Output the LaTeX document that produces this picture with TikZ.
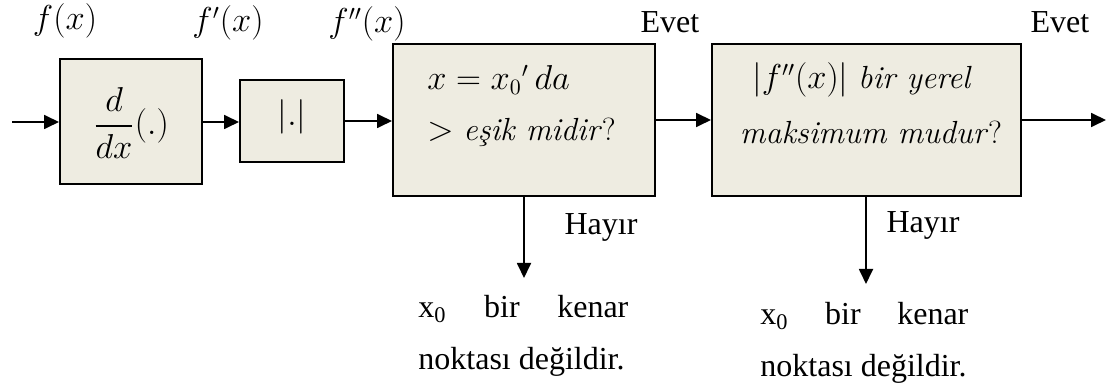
\documentclass[tikz,border=0pt]{standalone}
\usepackage{amsmath}
\usepackage{fontspec}
\newfontfamily\tnr{Liberation Serif}
\usetikzlibrary{arrows.meta}
\definecolor{boxfill}{RGB}{238,236,225}
\tikzset{
  blk/.style={draw=black, line width=1pt, fill=boxfill, inner sep=0pt},
  conn/.style={line width=0.9pt, -{Triangle[length=7.5pt,width=7pt]}},
  lbl/.style={inner sep=0pt, font=\tnr\fontsize{16}{19}\selectfont},
  mlbl/.style={inner sep=0pt, font=\fontsize{16}{19}\selectfont},
}
\begin{document}
\begin{tikzpicture}[x=0.5pt,y=-0.5pt]
\useasboundingbox (0,0) rectangle (1109,389);
% boxes
\node[blk, minimum width=71pt, minimum height=62.5pt] (b1) at (131,121.5) {};
\node[blk, minimum width=52pt, minimum height=41pt] (b2) at (292,121.5) {};
\node[blk, minimum width=131pt, minimum height=76pt] (b3) at (524,120) {};
\node[blk, minimum width=154.5pt, minimum height=76pt] (b4) at (866.5,120) {};
% box texts
\node[mlbl] (t1) at (131,123) {$\dfrac{d}{dx}(.)$};
\node[mlbl] (t2) at (292,117) {$|.|$};
\node[mlbl, anchor=west] (t3a) at (427,80) {$x = {x_0}'\,da$};
\node[mlbl, anchor=west] (t3b) at (427,132) {$>$ \textit{eşik midir}?};
\node[mlbl] (t4a) at (862,80) {$|f''(x)|$ \textit{bir yerel}};
\node[mlbl] (t4b) at (871,132) {\textit{maksimum mudur}?};
% signal labels
\node[mlbl] (l1) at (65,21) {$f(x)$};
\node[mlbl] (l2) at (228,23) {$f'(x)$};
\node[mlbl] (l3) at (367,24) {$f''(x)$};
\node[lbl] (e1) at (670,22) {Evet};
\node[lbl] (e2) at (1060,22) {Evet};
\node[lbl] (h1) at (601,227) {Hayır};
\node[lbl] (h2) at (923,225) {Hayır};
% outputs
\node[lbl, anchor=west] (o1a) at (418,309) {\makebox[105pt][s]{x\textsubscript{0} bir kenar}};
\node[lbl, anchor=west] (o1b) at (418,362) {noktası değildir.};
\node[lbl, anchor=west] (o2a) at (760,316) {\makebox[104pt][s]{x\textsubscript{0} bir kenar}};
\node[lbl, anchor=west] (o2b) at (760,369) {noktası değildir.};
% coordinates
\coordinate (in) at (12,122);
\coordinate (out) at (1106,120);
\coordinate (d1) at (524,278);
\coordinate (d2) at (866,284);
% connectors
\draw[conn] (in) -- (b1.west |- in);
\draw[conn] (b1.east |- 0,122) -- (b2.west |- 0,122);
\draw[conn] (b2.east |- 0,121) -- (b3.west |- 0,121);
\draw[conn] (b3.east |- 0,120) -- (b4.west |- 0,120);
\draw[conn] (b4.east |- out) -- (out);
\draw[conn] (b3.south -| d1) -- (d1);
\draw[conn] (b4.south -| d2) -- (d2);
\end{tikzpicture}
\end{document}
